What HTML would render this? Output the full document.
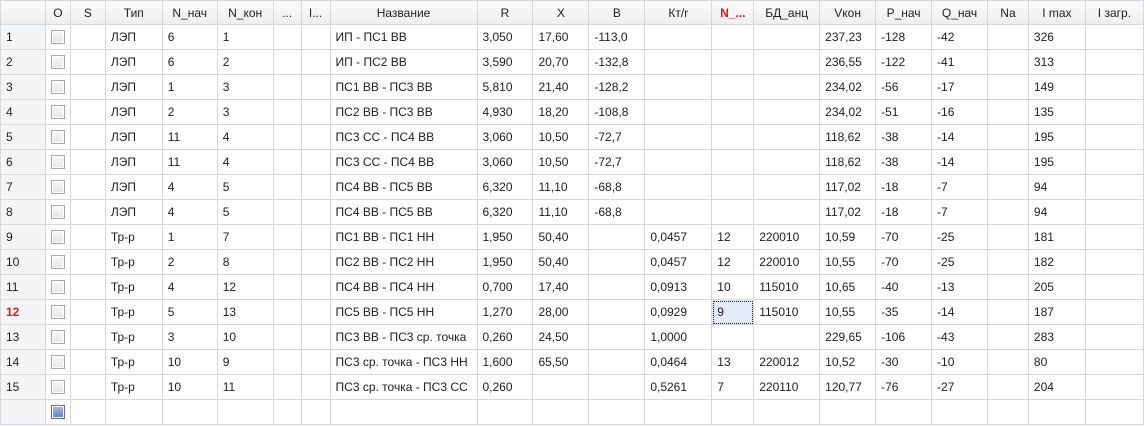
<!DOCTYPE html>
<html><head><meta charset="utf-8"><style>
body{margin:0;width:1144px;height:426px;overflow:hidden;background:#fff;font-family:"Liberation Sans","DejaVu Sans",sans-serif;font-size:12px;color:#1e1e1e}
table{border-collapse:collapse;table-layout:fixed;position:absolute;left:0;top:0}
td,th{height:24px;padding:0 0 0 5px;border:1px solid #d8d8dc;white-space:nowrap;overflow:hidden;text-align:left;font-weight:normal;box-sizing:border-box}
th{height:24px;background:linear-gradient(#fbfbfb,#eeeeef);text-align:center;padding:0}
tr.r td{height:25px}
td.n{background:#f4f5f7}
.cb{display:inline-block;width:12px;height:12px;border:1px solid #a9a9a9;background:linear-gradient(#f8f8f8,#e6e6e6);box-shadow:inset 0 0 0 1px #fff;vertical-align:middle;margin-left:0}
.cbn{background:linear-gradient(#a8bde8,#5a7fd0);border-color:#5b6ea0}
.red{color:#e8141c;font-weight:bold}
.sel{background:#e3ebfb;outline:1px dotted #222;outline-offset:-2px}
</style></head><body>
<table>
<colgroup><col style="width:45px"><col style="width:25px"><col style="width:35px"><col style="width:57px"><col style="width:55px"><col style="width:56px"><col style="width:28px"><col style="width:29px"><col style="width:147px"><col style="width:56px"><col style="width:56px"><col style="width:56px"><col style="width:67px"><col style="width:42px"><col style="width:66px"><col style="width:56px"><col style="width:56px"><col style="width:56px"><col style="width:41px"><col style="width:57px"><col style="width:58px"></colgroup>
<thead><tr>
<th></th><th>O</th><th>S</th><th>Тип</th><th>N_нач</th><th>N_кон</th><th>...</th><th>I...</th><th>Название</th><th>R</th><th>X</th><th>B</th><th>Кт/r</th><th class="red">N_...</th><th>БД_анц</th><th>Vкон</th><th>P_нач</th><th>Q_нач</th><th>Na</th><th>I max</th><th>I загр.</th>
</tr></thead><tbody id="tb"></tbody></table>
<script>
const rows=[
["ЛЭП","6","1","ИП - ПС1 ВВ","3,050","17,60","-113,0","","","","237,23","-128","-42","326"],
["ЛЭП","6","2","ИП - ПС2 ВВ","3,590","20,70","-132,8","","","","236,55","-122","-41","313"],
["ЛЭП","1","3","ПС1 ВВ - ПС3 ВВ","5,810","21,40","-128,2","","","","234,02","-56","-17","149"],
["ЛЭП","2","3","ПС2 ВВ - ПС3 ВВ","4,930","18,20","-108,8","","","","234,02","-51","-16","135"],
["ЛЭП","11","4","ПС3 СС - ПС4 ВВ","3,060","10,50","-72,7","","","","118,62","-38","-14","195"],
["ЛЭП","11","4","ПС3 СС - ПС4 ВВ","3,060","10,50","-72,7","","","","118,62","-38","-14","195"],
["ЛЭП","4","5","ПС4 ВВ - ПС5 ВВ","6,320","11,10","-68,8","","","","117,02","-18","-7","94"],
["ЛЭП","4","5","ПС4 ВВ - ПС5 ВВ","6,320","11,10","-68,8","","","","117,02","-18","-7","94"],
["Тр-р","1","7","ПС1 ВВ - ПС1 НН","1,950","50,40","","0,0457","12","220010","10,59","-70","-25","181"],
["Тр-р","2","8","ПС2 ВВ - ПС2 НН","1,950","50,40","","0,0457","12","220010","10,55","-70","-25","182"],
["Тр-р","4","12","ПС4 ВВ - ПС4 НН","0,700","17,40","","0,0913","10","115010","10,65","-40","-13","205"],
["Тр-р","5","13","ПС5 ВВ - ПС5 НН","1,270","28,00","","0,0929","9","115010","10,55","-35","-14","187"],
["Тр-р","3","10","ПС3 ВВ - ПС3 ср. точка","0,260","24,50","","1,0000","","","229,65","-106","-43","283"],
["Тр-р","10","9","ПС3 ср. точка - ПС3 НН","1,600","65,50","","0,0464","13","220012","10,52","-30","-10","80"],
["Тр-р","10","11","ПС3 ср. точка - ПС3 СС","0,260","","","0,5261","7","220110","120,77","-76","-27","204"]];
const tb=document.getElementById('tb');
rows.forEach((r,i)=>{
const tr=document.createElement('tr');tr.className='r';


const cells=[`<td class="n${i==11?' red':''}">${i+1}</td>`,'<td><span class="cb"></span></td>','<td></td>',
`<td>${r[0]}</td>`,`<td>${r[1]}</td>`,`<td>${r[2]}</td>`,'<td></td>','<td></td>',`<td>${r[3]}</td>`,
`<td>${r[4]}</td>`,`<td>${r[5]}</td>`,`<td>${r[6]}</td>`,`<td>${r[7]}</td>`,`<td${i==11?' class="sel"':''}>${r[8]}</td>`,
`<td>${r[9]}</td>`,`<td>${r[10]}</td>`,`<td>${r[11]}</td>`,`<td>${r[12]}</td>`,'<td></td>',`<td>${r[13]}</td>`,'<td></td>'];
tr.innerHTML=cells.join('');tb.appendChild(tr);});
const nr=document.createElement('tr');nr.className='r';


let h='<td class="n"></td><td><span class="cb cbn"></span></td>';for(let k=0;k<19;k++)h+='<td></td>';
nr.innerHTML=h;tb.appendChild(nr);
</script>
</body></html>
